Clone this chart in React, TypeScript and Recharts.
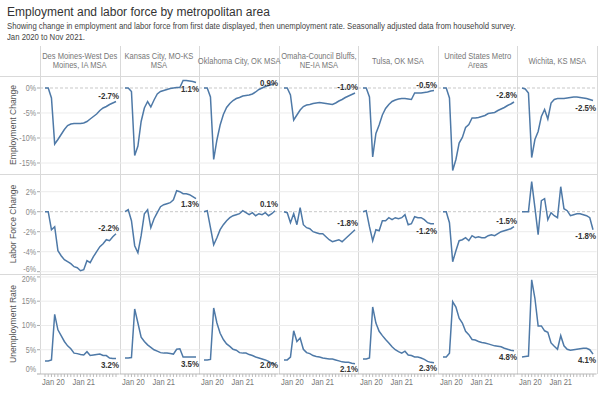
import { LineChart, Line, XAxis, YAxis, ReferenceLine } from 'recharts'

const FONT = "'Liberation Sans', Arial, sans-serif"

const months = [
  'Jan 20', 'Feb 20', 'Mar 20', 'Apr 20', 'May 20', 'Jun 20', 'Jul 20', 'Aug 20', 'Sep 20', 'Oct 20', 'Nov 20', 'Dec 20',
  'Jan 21', 'Feb 21', 'Mar 21', 'Apr 21', 'May 21', 'Jun 21', 'Jul 21', 'Aug 21', 'Sep 21', 'Oct 21', 'Nov 21',
]

const areas = [
  'Des Moines-West Des\nMoines, IA MSA',
  'Kansas City, MO-KS\nMSA',
  'Oklahoma City, OK MSA',
  'Omaha-Council Bluffs,\nNE-IA MSA',
  'Tulsa, OK MSA',
  'United States Metro\nAreas',
  'Wichita, KS MSA',
]

// employment change from Jan 2020 (%)
const desMoinesEmp = [0, 0, -2.0, -11.2, -10.3, -9.3, -8.3, -7.5, -7.2, -7.1, -7.1, -7.1, -7.0, -6.7, -6.2, -5.7, -5.2, -4.5, -4.0, -3.7, -3.3, -3.0, -2.7]
const kansasEmp = [0, 0, -0.7, -13.5, -11.6, -6.7, -4.0, -2.7, -3.8, -2.4, -1.2, -0.7, -0.5, -0.3, -0.1, 0, 0.1, 0.1, 1.5, 1.5, 1.4, 1.3, 1.1]
const okcEmp = [0, 0, -1.8, -14.3, -10.4, -7.4, -5.3, -3.9, -3.1, -2.5, -2.1, -1.9, -1.6, -1.5, -1.4, -1.2, -0.8, -0.3, 0, 0.3, 0.5, 0.7, 0.9]
const omahaEmp = [0, 0, -1.4, -6.4, -5.4, -4.4, -3.7, -3.4, -3.3, -3.1, -3.0, -2.9, -3.0, -3.1, -3.2, -3.3, -3.0, -2.6, -2.3, -1.9, -1.6, -1.3, -1.0]
const tulsaEmp = [0, 0, -1.8, -13.8, -9.1, -7.4, -5.4, -4.1, -3.3, -2.7, -2.4, -2.2, -2.1, -2.1, -2.2, -2.3, -1.0, -1.0, -1.0, -0.9, -0.8, -0.6, -0.5]
const usEmp = [0, 0, -2.0, -16.5, -14.3, -11.0, -9.9, -7.9, -7.3, -6.0, -6.0, -5.9, -5.7, -5.5, -5.1, -5.0, -4.9, -4.5, -4.2, -3.9, -3.5, -3.2, -2.8]
const wichitaEmp = [0, -0.2, -1.0, -13.9, -10.3, -8.7, -5.7, -4.3, -6.2, -3.0, -2.3, -2.1, -2.1, -2.1, -2.0, -1.9, -1.8, -1.8, -1.9, -2.0, -2.1, -2.3, -2.5]

// labor force change from Jan 2020 (%)
const desMoinesLf = [0, 0, -1.8, -1.5, -3.9, -4.4, -4.8, -5.0, -5.2, -5.5, -5.6, -5.9, -5.8, -4.9, -5.1, -4.5, -4.0, -3.5, -3.2, -2.8, -2.9, -2.5, -2.2]
const kansasLf = [0, 0.2, -0.9, -3.4, -4.1, -2.4, -0.2, 0.2, -1.6, -0.7, -0.1, 0.5, 0.7, 0.8, 0.9, 1.2, 2.1, 2.0, 1.8, 1.8, 1.7, 1.5, 1.3]
const okcLf = [0, 0.1, -1.6, -3.3, -2.6, -1.8, -1.3, -0.9, -0.6, -0.4, -0.3, -0.2, 0.1, -0.1, -0.3, -0.1, -0.4, -0.2, -0.3, -0.1, -0.4, -0.2, 0.1]
const omahaLf = [0, -0.1, -1.1, -0.2, -1.3, 0.4, -1.3, -1.6, -1.7, -2.0, -2.1, -2.2, -2.2, -2.5, -2.8, -3.0, -2.9, -2.8, -3.0, -2.7, -2.4, -2.1, -1.8]
const tulsaLf = [0, 0.1, -1.5, -2.9, -1.8, -1.9, -0.9, -0.9, -0.6, -0.8, -0.6, -0.7, -0.6, -0.3, -1.3, -1.2, -0.5, -0.6, -0.6, -0.8, -1.1, -1.2, -1.2]
const usLf = [0, 0, -1.1, -5.0, -3.9, -2.9, -2.8, -2.6, -2.9, -2.4, -2.6, -2.5, -2.6, -2.6, -2.4, -2.3, -2.4, -2.2, -2.0, -1.9, -1.8, -1.7, -1.5]
const wichitaLf = [0, 0, 0, 3.0, 0.4, -2.3, 1.1, 1.3, -0.8, -0.1, -0.4, -0.6, 2.5, 0.3, 0.1, -0.4, -0.3, -0.2, -0.2, -0.3, -0.4, -0.6, -1.8]

// unemployment rate (%)
const desMoinesUr = [2.7, 2.7, 2.9, 12.3, 9.1, 7.9, 6.7, 5.8, 5.2, 4.3, 4.2, 4.0, 3.9, 4.6, 3.8, 3.9, 4.0, 4.1, 3.8, 3.8, 3.3, 3.2, 3.2]
const kansasUr = [3.3, 3.3, 3.4, 13.4, 10.5, 7.6, 6.7, 6.0, 5.5, 5.0, 4.7, 4.4, 4.3, 4.3, 4.2, 4.1, 5.1, 5.2, 3.5, 3.5, 3.5, 3.5, 3.5]
const okcUr = [2.9, 2.9, 3.0, 13.6, 10.5, 8.4, 7.1, 6.2, 5.7, 5.1, 4.9, 4.4, 4.3, 4.3, 4.0, 3.8, 3.5, 3.3, 3.1, 2.9, 2.6, 2.2, 2.0]
const omahaUr = [2.9, 2.9, 3.5, 8.9, 6.7, 7.4, 5.1, 4.4, 4.2, 3.8, 3.6, 3.5, 3.3, 3.2, 3.1, 3.1, 2.9, 2.7, 2.5, 2.4, 2.4, 2.2, 2.1]
const tulsaUr = [3.1, 3.1, 3.3, 13.8, 10.5, 8.8, 7.9, 7.1, 6.4, 5.6, 5.0, 4.6, 4.3, 4.7, 3.9, 3.8, 3.5, 3.5, 3.3, 3.0, 2.6, 2.4, 2.3]
const usUr = [3.5, 3.5, 4.3, 14.9, 13.8, 11.5, 10.5, 8.8, 8.1, 7.1, 7.0, 6.7, 6.5, 6.4, 6.2, 6.0, 5.8, 5.7, 5.6, 5.3, 5.1, 4.9, 4.8]
const wichitaUr = [3.5, 3.6, 3.7, 19.4, 15.6, 9.9, 9.9, 8.9, 8.6, 6.4, 5.7, 5.1, 7.9, 5.8, 5.1, 4.9, 5.0, 5.1, 5.2, 5.3, 5.3, 5.0, 4.1]

const empTicks = [-15, -10, -5, 0]
const lfTicks = [-6, -4, -2, 0, 2]
const urTicks = [0, 5, 10, 15, 20]

const rows = [
  {
    title: 'Employment Change',
    series: [desMoinesEmp, kansasEmp, okcEmp, omahaEmp, tulsaEmp, usEmp, wichitaEmp],
    ticks: empTicks,
    domain: [-17.2, 2.4],
    zero: true,
    labelDy: [-6, 6, -1, -6, -6, -7, 7],
  },
  {
    title: 'Labor Force Change',
    series: [desMoinesLf, kansasLf, okcLf, omahaLf, tulsaLf, usLf, wichitaLf],
    ticks: lfTicks,
    domain: [-6.23, 3.77],
    zero: true,
    labelDy: [-6, 5, -7, -7, 7, -6, 6],
  },
  {
    title: 'Unemployment Rate',
    series: [desMoinesUr, kansasUr, okcUr, omahaUr, tulsaUr, usUr, wichitaUr],
    ticks: urTicks,
    domain: [0, 20.6],
    zero: false,
    labelDy: [7, 7, 1, 5, 5, 6, 6],
  },
]

const LEFT = 40
const COLW = 79.57
const AXIS_W = 40
const ROW_TOP = [76, 174, 274]
const ROW_H = [98, 100, 100]
const X_AXIS_H = 20
const BLUE = '#4e79a7'
const GRID = '#ececec'
const RULE = '#d9d9d9'
const NARROW = 0.84
const LAST = months.length - 1

const fmt = (v: number) => `${v.toFixed(1)}%`

function YTick({ x, y, payload, row }: any) {
  const ticks = rows[row].ticks
  let shift = 0
  if (row === 2 && payload.value === 0) shift = -5
  if (row === 1 && payload.value === ticks[0]) shift = -3
  if (row === 2 && payload.value === ticks[ticks.length - 1]) shift = 2
  return (
    <text
      transform={`translate(${x},${y + shift}) scale(${NARROW},1)`}
      dy={3}
      textAnchor="end"
      fontSize={8.5}
      fill="#888"
      fontFamily={FONT}
    >
      {payload.value}%
    </text>
  )
}

function XTick({ x, y, payload }: any) {
  const label = months[payload.value]
  if (!label || !label.startsWith('Jan')) return <g />
  const first = payload.value === 0
  return (
    <text
      transform={`translate(${first ? x - 3 : x},${y}) scale(${NARROW},1)`}
      dy={6}
      textAnchor={first ? 'start' : 'middle'}
      fontSize={9}
      fill="#777"
      fontFamily={FONT}
    >
      {label}
    </text>
  )
}

function Cell({ r, c }: { r: number; c: number }) {
  const row = rows[r]
  const values = row.series[c]
  const data = values.map((v, i) => ({ i, v }))
  const withAxis = c === 0
  const withX = r === 2
  const dy = row.labelDy[c]
  return (
    <div style={{ position: 'absolute', left: withAxis ? 0 : LEFT + c * COLW, top: ROW_TOP[r] }}>
      <LineChart
        width={withAxis ? AXIS_W + COLW : COLW}
        height={ROW_H[r] + (withX ? X_AXIS_H : 0)}
        data={data}
        margin={{ top: 0, right: 0, bottom: 0, left: 0 }}
      >
        <XAxis
          type="number"
          dataKey="i"
          domain={[-1.55, 23.1]}
          ticks={months.map((_, i) => i)}
          interval={0}
          hide={!withX}
          height={X_AXIS_H}
          tickSize={3}
          tickMargin={2}
          axisLine={{ stroke: '#bbb' }}
          tickLine={{ stroke: '#bbb' }}
          tick={<XTick />}
        />
        <YAxis
          type="number"
          domain={row.domain}
          ticks={row.ticks}
          interval={0}
          hide={!withAxis}
          width={AXIS_W}
          tickSize={3}
          tickMargin={1}
          axisLine={false}
          tickLine={{ stroke: '#aaa' }}
          tick={<YTick row={r} />}
          allowDataOverflow
        />
        {row.ticks.filter((t) => t !== 0).map((t) => (
          <ReferenceLine key={t} y={t} stroke={GRID} strokeWidth={1} />
        ))}
        {row.zero && <ReferenceLine y={0} stroke="#c8c8c8" strokeDasharray="3 2" strokeWidth={1} />}
        <Line
          type="linear"
          dataKey="v"
          stroke={BLUE}
          strokeWidth={1.5}
          activeDot={false}
          isAnimationActive={false}
          dot={(p: any) =>
            p.index === LAST ? (
              <text
                key="end"
                transform={`translate(${p.cx + 3},${p.cy + dy + 3}) scale(0.88,1)`}
                textAnchor="end"
                fontSize={9}
                fontWeight="bold"
                fill="#333"
                fontFamily={FONT}
              >
                {fmt(values[LAST])}
              </text>
            ) : (
              <g key={p.index} />
            )
          }
        />
      </LineChart>
    </div>
  )
}

export default function App() {
  return (
    <div
      style={{
        position: 'absolute',
        left: 0,
        top: 0,
        width: 600,
        height: 394,
        background: '#fff',
        overflow: 'hidden',
        fontFamily: FONT,
      }}
    >
      <style>{'.recharts-surface{overflow:visible}'}</style>
      <div style={{ position: 'absolute', left: 7, top: 5, fontSize: 12, color: '#333', whiteSpace: 'nowrap' }}>
        Employment and labor force by metropolitan area
      </div>
      <div
        style={{
          position: 'absolute',
          left: 7,
          top: 20,
          fontSize: 9.5,
          lineHeight: '11px',
          color: '#444',
          whiteSpace: 'nowrap',
          transform: 'scaleX(0.815)',
          transformOrigin: 'left top',
        }}
      >
        Showing change in employment and labor force from first date displayed, then unemployment rate. Seasonally adjusted data from household survey.
        <br />
        Jan 2020 to Nov 2021.
      </div>

      {/* rules */}
      {[0, 1, 2, 3, 4, 5, 6, 7].map((c) => (
        <div key={'v' + c} style={{ position: 'absolute', left: LEFT + c * COLW, top: 46, width: 1, height: 328, background: RULE }} />
      ))}
      {ROW_TOP.map((y) => (
        <div key={'h' + y} style={{ position: 'absolute', left: 0, top: y, width: LEFT + 7 * COLW, height: 1, background: RULE }} />
      ))}

      {areas.map((a, c) => (
        <div
          key={a}
          style={{
            position: 'absolute',
            left: LEFT + c * COLW,
            top: 46,
            width: COLW,
            height: 30,
            display: 'flex',
            alignItems: 'center',
            justifyContent: 'center',
          }}
        >
          <span
            style={{
              display: 'inline-block',
              textAlign: 'center',
              whiteSpace: 'pre',
              fontSize: 9,
              lineHeight: '9px',
              color: '#777',
              transform: `scaleX(${NARROW})`,
            }}
          >
            {a}
          </span>
        </div>
      ))}

      {rows.map((row, r) => (
        <div
          key={row.title}
          style={{
            position: 'absolute',
            left: 12,
            top: ROW_TOP[r] + ROW_H[r] / 2,
            transform: 'translate(-50%, -50%) rotate(-90deg) scaleX(0.9)',
            whiteSpace: 'nowrap',
            fontSize: 9.5,
            color: '#555',
          }}
        >
          {row.title}
        </div>
      ))}

      {rows.map((row, r) => row.series.map((_, c) => <Cell key={r + '-' + c} r={r} c={c} />))}
    </div>
  )
}
